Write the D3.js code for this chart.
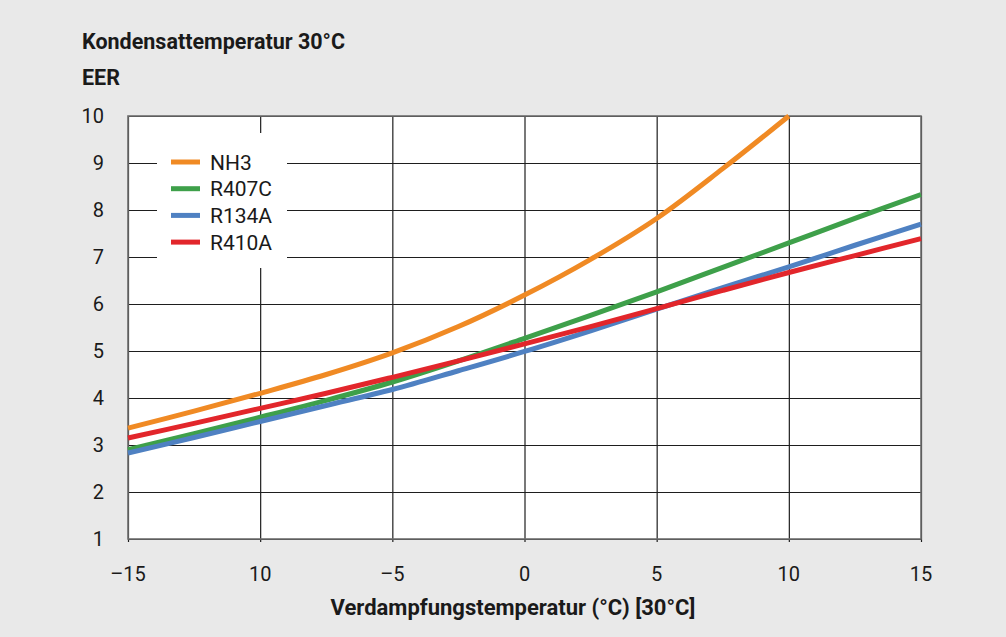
<!DOCTYPE html>
<html>
<head>
<meta charset="utf-8">
<script src="https://cdn.jsdelivr.net/npm/d3@7"></script>
<style>
  html, body { margin: 0; padding: 0; background: #e9e9e9; }
  svg { display: block; font-family: Roboto, "Noto Sans", sans-serif; }
</style>
</head>
<body>
<svg id="chart" width="1006" height="637"></svg>
<script>
// Evaporation temperature samples (°C)
const temps = [-15, -12.5, -10, -7.5, -5, -2.5, 0, 2.5, 5, 7.5, 10, 12.5, 15];

// EER per refrigerant at condensing temperature 30 °C
const nh3   = [3.36, 3.72, 4.10, 4.50, 4.96, 5.52, 6.19, 6.95, 7.82, 8.88, 10.0];
const r407c = [2.90, 3.24, 3.59, 3.95, 4.34, 4.79, 5.27, 5.76, 6.26, 6.78, 7.30, 7.82, 8.33];
const r134a = [2.83, 3.16, 3.50, 3.84, 4.18, 4.58, 4.99, 5.43, 5.89, 6.35, 6.79, 7.25, 7.70];
const r410a = [3.15, 3.46, 3.78, 4.10, 4.44, 4.79, 5.15, 5.52, 5.90, 6.29, 6.67, 7.03, 7.39];

const seriesNames  = ["NH3", "R407C", "R134A", "R410A"];
const seriesValues = [nh3, r407c, r134a, r410a];
const seriesColors = ["#f08a24", "#3ea04a", "#4f81c2", "#e2262b"];

const xTicks = [-15, -10, -5, 0, 5, 10, 15];
const xTickLabels = ["\u201315", "10", "\u20135", "0", "5", "10", "15"];
const yTicks = [1, 2, 3, 4, 5, 6, 7, 8, 9, 10];

const svg = d3.select("#chart");
const plotL = 128, plotR = 921, plotT = 116, plotB = 539;

const x = d3.scaleLinear().domain([-15, 15]).range([plotL, plotR]);
const y = d3.scaleLinear().domain([1, 10]).range([plotB, plotT]);

// plot background
svg.append("rect")
  .attr("x", plotL).attr("y", plotT)
  .attr("width", plotR - plotL).attr("height", plotB - plotT)
  .attr("fill", "#ffffff");

// horizontal grid
svg.append("g")
  .attr("transform", `translate(${plotL},0)`)
  .call(d3.axisLeft(y).tickValues(yTicks).tickSize(-(plotR - plotL)).tickFormat(""))
  .call(g => g.select(".domain").remove())
  .call(g => g.selectAll("line").attr("stroke", "#1e1e1e").attr("stroke-width", 1.2));

// vertical grid with small ticks below the frame
svg.append("g")
  .attr("transform", `translate(0,${plotB + 3})`)
  .call(d3.axisBottom(x).tickValues(xTicks).tickSize(-(plotB - plotT + 3)).tickFormat(""))
  .call(g => g.select(".domain").remove())
  .call(g => g.selectAll("line").attr("stroke", "#1e1e1e").attr("stroke-width", 1.2));

// frame
svg.append("rect")
  .attr("x", plotL).attr("y", plotT)
  .attr("width", plotR - plotL).attr("height", plotB - plotT)
  .attr("fill", "none").attr("stroke", "#6e6e6e").attr("stroke-width", 1.6);

// legend box (hides grid behind it)
const legend = svg.append("g");
legend.append("rect")
  .attr("x", 157).attr("y", 133).attr("width", 130).attr("height", 135)
  .attr("fill", "#ffffff");
seriesNames.forEach((name, i) => {
  const ly = 162 + i * 26.7;
  legend.append("line")
    .attr("x1", 171).attr("x2", 200).attr("y1", ly).attr("y2", ly)
    .attr("stroke", seriesColors[i]).attr("stroke-width", 5);
  legend.append("text")
    .attr("x", 210).attr("y", ly).attr("dy", "0.36em")
    .attr("font-size", 21).attr("fill", "#1a1a1a")
    .text(name);
});

// curves
const line = d3.line()
  .x((d, i) => x(temps[i]))
  .y(d => y(d))
  .curve(d3.curveCatmullRom.alpha(0.5));

svg.append("g").selectAll("path")
  .data(seriesValues)
  .join("path")
  .attr("d", d => line(d))
  .attr("fill", "none")
  .attr("stroke", (d, i) => seriesColors[i])
  .attr("stroke-width", 5)
  .attr("stroke-linecap", "butt")
  .attr("stroke-linejoin", "round");

// y tick labels
svg.append("g").selectAll("text")
  .data(yTicks)
  .join("text")
  .attr("x", 104).attr("y", d => y(d)).attr("dy", "0.36em")
  .attr("text-anchor", "end")
  .attr("font-size", 20).attr("fill", "#1a1a1a")
  .text(d => d);

// x tick labels
svg.append("g").selectAll("text")
  .data(xTicks)
  .join("text")
  .attr("x", d => x(d)).attr("y", 581)
  .attr("text-anchor", "middle")
  .attr("font-size", 20).attr("fill", "#1a1a1a")
  .text((d, i) => xTickLabels[i]);

// titles
svg.append("text")
  .attr("x", 82).attr("y", 49)
  .attr("font-size", 21.5).attr("font-weight", "bold").attr("fill", "#1a1a1a")
  .text("Kondensattemperatur 30°C");
svg.append("text")
  .attr("x", 82).attr("y", 85)
  .attr("font-size", 21.5).attr("font-weight", "bold").attr("fill", "#1a1a1a")
  .text("EER");
svg.append("text")
  .attr("x", 513).attr("y", 615)
  .attr("text-anchor", "middle")
  .attr("font-size", 22).attr("font-weight", "bold").attr("fill", "#1a1a1a")
  .text("Verdampfungstemperatur (°C) [30°C]");
</script>
</body>
</html>
